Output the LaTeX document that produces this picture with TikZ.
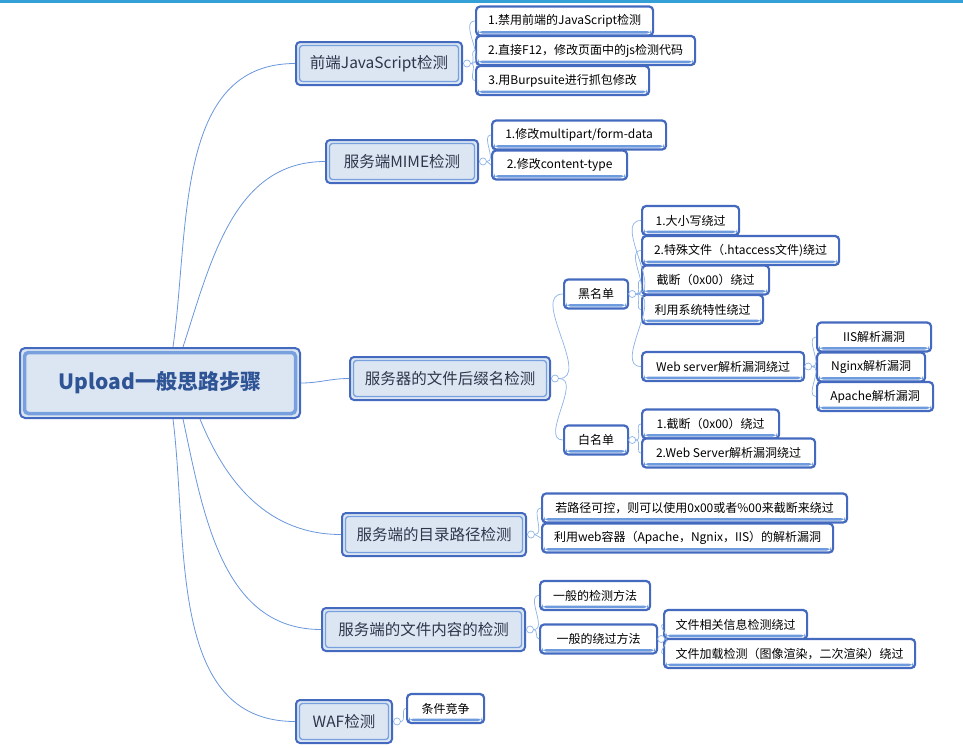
\documentclass[tikz,border=0pt]{standalone}
\usepackage{fontspec}
\setmainfont{Noto Sans CJK SC}

\definecolor{boxline}{RGB}{68,106,192}
\definecolor{boxinner}{RGB}{120,160,222}
\definecolor{boxfill}{RGB}{220,230,243}
\definecolor{barline}{RGB}{110,155,222}
\definecolor{linkline}{RGB}{105,150,220}
\definecolor{twigline}{RGB}{140,178,230}
\definecolor{topline}{RGB}{52,160,214}
\definecolor{roottext}{RGB}{46,84,150}
\definecolor{topictext}{RGB}{45,55,75}

\begin{document}
\begin{tikzpicture}[x=1pt, y=1pt]
	\tikzstyle{rootbox} = [draw=boxline, line width=2pt, fill=boxfill,
	rounded corners=5pt, minimum width=280pt, minimum height=70pt,
	inner sep=0pt, text=roottext, font=\fontsize{21}{24}\selectfont\bfseries,
	path picture={\draw[boxinner, line width=3.5pt, rounded corners=4pt]
		([shift={(4.5pt,4.5pt)}]path picture bounding box.south west) rectangle
		([shift={(-4.5pt,-4.5pt)}]path picture bounding box.north east);}]
	\tikzstyle{topicbox} = [draw=boxline, line width=2pt, fill=boxfill,
	rounded corners=4pt, minimum height=43pt, inner sep=0pt,
	text=topictext, font=\fontsize{15.5}{18}\selectfont,
	path picture={\draw[boxinner, line width=1.3pt, rounded corners=3pt]
		([shift={(3.5pt,3.5pt)}]path picture bounding box.south west) rectangle
		([shift={(-3.5pt,-3.5pt)}]path picture bounding box.north east);}]
	\tikzstyle{leafbox} = [draw=boxline, line width=2.2pt, fill=white,
	rounded corners=4pt, minimum height=29pt, inner sep=0pt, anchor=west,
	font=\fontsize{12}{14}\selectfont,
	path picture={\fill[barline]
		([shift={(2pt,2pt)}]path picture bounding box.south west) rectangle
		([shift={(-2pt,4.5pt)}]path picture bounding box.south east);}]
	\tikzstyle{toggle} = [draw=twigline, fill=white, circle, minimum size=7pt,
	inner sep=0pt, line width=0.7pt]
	\tikzstyle{trunk} = [draw=linkline, line width=0.8pt]
	\tikzstyle{twig} = [draw=twigline, line width=0.7pt]

	\useasboundingbox (0,0) rectangle (963,-747);
	\fill[topline] (0,0) rectangle (963,-3);

	% main topics
	\node[rootbox] (root) at (160,-383) {Upload一般思路步骤};
	\node[topicbox, minimum width=166pt] (js) at (379,-63.5) {前端JavaScript检测};
	\node[topicbox, minimum width=152pt] (mime) at (402,-161.5) {服务端MIME检测};
	\node[topicbox, minimum width=200pt] (ext) at (450,-378.5) {服务器的文件后缀名检测};
	\node[topicbox, minimum width=184pt] (dir) at (434,-534.5) {服务端的目录路径检测};
	\node[topicbox, minimum width=203pt] (cont) at (423.5,-629.5) {服务端的文件内容的检测};
	\node[topicbox, minimum width=96pt] (waf) at (344,-721.5) {WAF检测};

	\coordinate (r1) at ([xshift=13pt]root.north);
	\coordinate (r2) at ([xshift=23pt]root.north);
	\coordinate (r4) at ([xshift=40pt]root.south);
	\coordinate (r5) at ([xshift=23pt]root.south);
	\coordinate (r6) at ([xshift=13pt]root.south);

	\path[trunk]
		(r1) edge[out=82, in=180] (js)
		(r2) edge[out=72, in=180] (mime)
		(root.east) edge[out=0, in=180] (ext)
		(r4) edge[out=-68, in=180] (dir)
		(r5) edge[out=-78, in=180] (cont)
		(r6) edge[out=-83, in=180] (waf)
		;

	% subtopics
	\node[leafbox, minimum width=177pt] (js1) at (475,-21) {1.禁用前端的JavaScript检测};
	\node[leafbox, minimum width=219pt] (js2) at (475,-50.5) {2.直接F12，修改页面中的js检测代码};
	\node[leafbox, minimum width=173pt] (js3) at (475,-80.5) {3.用Burpsuite进行抓包修改};

	\node[leafbox, minimum width=174pt] (mime1) at (491,-135) {1.修改multipart/form-data};
	\node[leafbox, minimum width=135pt] (mime2) at (491,-165) {2.修改content-type};

	\node[leafbox, minimum width=64pt] (black) at (563,-294) {黑名单};
	\node[leafbox, minimum width=64pt] (white) at (563,-440) {白名单};

	\node[leafbox, minimum width=97pt] (bl1) at (641,-220.5) {1.大小写绕过};
	\node[leafbox, minimum width=197pt] (bl2) at (641,-250.5) {2.特殊文件（.htaccess文件)绕过};
	\node[leafbox, minimum width=127pt] (bl3) at (641,-280) {截断（0x00）绕过};
	\node[leafbox, minimum width=121pt] (bl4) at (641,-309.5) {利用系统特性绕过};
	\node[leafbox, minimum width=162pt] (bl5) at (641,-366.5) {Web server解析漏洞绕过};

	\node[leafbox, minimum width=114pt] (iis) at (816,-337) {IIS解析漏洞};
	\node[leafbox, minimum width=108pt] (nginx) at (816,-367) {Nginx解析漏洞};
	\node[leafbox, minimum width=116pt] (apache) at (816,-396.5) {Apache解析漏洞};

	\node[leafbox, minimum width=137pt] (wl1) at (641,-424) {1.截断（0x00）绕过};
	\node[leafbox, minimum width=173pt] (wl2) at (641,-453) {2.Web Server解析漏洞绕过};

	\node[leafbox, minimum width=305pt] (dir1) at (541,-508) {若路径可控，则可以使用0x00或者\%00来截断来绕过};
	\node[leafbox, minimum width=291pt] (dir2) at (541,-538) {利用web容器（Apache，Ngnix，IIS）的解析漏洞};

	\node[leafbox, minimum width=110pt] (cont1) at (539,-595.5) {一般的检测方法};
	\node[leafbox, minimum width=117pt] (cont2) at (539,-639) {一般的绕过方法};
	\node[leafbox, minimum width=143pt] (byp1) at (663,-624.5) {文件相关信息检测绕过};
	\node[leafbox, minimum width=251pt] (byp2) at (663,-653.5) {文件加载检测（图像渲染，二次渲染）绕过};

	\node[leafbox, minimum width=77pt] (waf1) at (406,-708.5) {条件竞争};

	% collapse toggles
	\node[toggle] (tjs) at ([xshift=4pt]js.east) {};
	\node[toggle] (tmime) at ([xshift=4pt]mime.east) {};
	\node[toggle] (text) at ([xshift=4pt]ext.east) {};
	\node[toggle] (tblack) at ([xshift=3pt]black.east) {};
	\node[toggle] (twhite) at ([xshift=3pt]white.east) {};
	\node[toggle] (tbl5) at ([xshift=3pt]bl5.east) {};
	\node[toggle] (tdir) at ([xshift=4pt]dir.east) {};
	\node[toggle] (tcont) at ([xshift=4pt]cont.east) {};
	\node[toggle] (tcont2) at ([xshift=3pt]cont2.east) {};
	\node[toggle] (twaf) at ([xshift=4pt]waf.east) {};

	\path[twig]
		(tjs) edge[out=0, in=180] (js1)
		(tjs) edge[out=0, in=180] (js2)
		(tjs) edge[out=0, in=180] (js3)
		(tmime) edge[out=0, in=180] (mime1)
		(tmime) edge[out=0, in=180] (mime2)
		(text) edge[out=0, in=180] (black)
		(text) edge[out=0, in=180] (white)
		(tblack) edge[out=0, in=180] (bl1)
		(tblack) edge[out=0, in=180] (bl2)
		(tblack) edge[out=0, in=180] (bl3)
		(tblack) edge[out=0, in=180] (bl4)
		(tblack) edge[out=0, in=180] (bl5)
		(tbl5) edge[out=0, in=180] (iis)
		(tbl5) edge[out=0, in=180] (nginx)
		(tbl5) edge[out=0, in=180] (apache)
		(twhite) edge[out=0, in=180] (wl1)
		(twhite) edge[out=0, in=180] (wl2)
		(tdir) edge[out=0, in=180] (dir1)
		(tdir) edge[out=0, in=180] (dir2)
		(tcont) edge[out=0, in=180] (cont1)
		(tcont) edge[out=0, in=180] (cont2)
		(tcont2) edge[out=0, in=180] (byp1)
		(tcont2) edge[out=0, in=180] (byp2)
		(twaf) edge[out=0, in=180] (waf1)
		;
\end{tikzpicture}
\end{document}
